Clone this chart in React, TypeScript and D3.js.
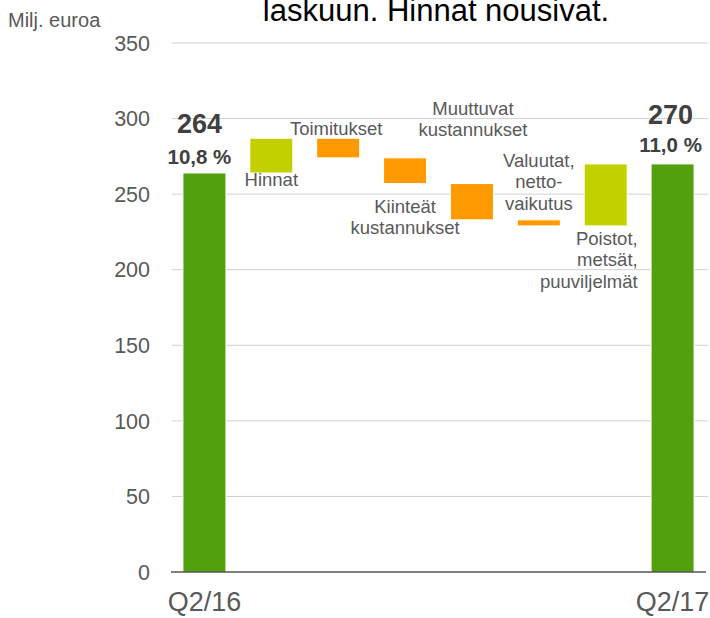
import React from "react";
import * as d3 from "d3";

const categories = [
  "Q2/16",
  "Hinnat",
  "Toimitukset",
  "Kiinteät kustannukset",
  "Muuttuvat kustannukset",
  "Valuutat, nettovaikutus",
  "Poistot, metsät, puuviljelmät",
  "Q2/17",
];
const values = [264, 23, -13, -17, -24, -4, 41, 270];
const kinds = ["total", "price", "neg", "neg", "neg", "neg", "price", "total"];
const labelLines = [
  [],
  ["Hinnat"],
  ["Toimitukset"],
  ["Kiinteät", "kustannukset"],
  ["Muuttuvat", "kustannukset"],
  ["Valuutat,", "netto-", "vaikutus"],
  ["Poistot,", "metsät,", "puuviljelmät"],
  [],
];
const totalLabels = ["264", "", "", "", "", "", "", "270"];
const marginLabels = ["10,8 %", "", "", "", "", "", "", "11,0 %"];
const yTicks = [0, 50, 100, 150, 200, 250, 300, 350];
const xTickLabels = ["Q2/16", "", "", "", "", "", "", "Q2/17"];
const yAxisTitle = "Milj. euroa";
const titleText = "laskuun. Hinnat nousivat.";

// label layout (style): which bar edge, pixel offset of first baseline, x offset, anchor
const labelLayout = [
  null,
  { edge: "bottom", dy: 13, dx: 0, anchor: "middle" },
  { edge: "top", dy: -3, dx: -2, anchor: "middle" },
  { edge: "bottom", dy: 29, dx: 0, anchor: "middle" },
  { edge: "top", dy: -69, dx: 1, anchor: "middle" },
  { edge: "top", dy: -53, dx: 0, anchor: "middle" },
  { edge: "bottom", dy: 19, dx: 32, anchor: "end" },
  null,
];

const W = 710;
const H = 618;
const FONT = "'Liberation Sans', Arial, Helvetica, sans-serif";
const colors: Record<string, string> = {
  total: "#52A00E",
  price: "#C3D000",
  neg: "#FF9900",
};

export default function App() {
  const x = d3
    .scaleBand<string>()
    .domain(categories)
    .range([171, 706])
    .paddingInner(0.357)
    .paddingOuter(0.1785);
  const y = d3.scaleLinear().domain([0, 350]).range([572, 43]);

  let running = 0;
  const bars = categories.map((c, i) => {
    let lo: number, hi: number;
    if (kinds[i] === "total") {
      lo = 0;
      hi = values[i];
      running = values[i];
    } else {
      const start = running;
      const end = running + values[i];
      lo = Math.min(start, end);
      hi = Math.max(start, end);
      running = end;
    }
    return { c, i, lo, hi };
  });

  const lineH = 21.5;

  return (
    <svg width={W} height={H} style={{ position: "absolute", left: 0, top: 0, background: "#fff" }}>
      <rect x={0} y={0} width={W} height={H} fill="#fff" />
      <text x={436} y={21} textAnchor="middle" fontFamily={FONT} fontSize={31} fill="#000">
        {titleText}
      </text>
      <text x={8} y={27} fontFamily={FONT} fontSize={20} fill="#595959">
        {yAxisTitle}
      </text>
      {yTicks.filter((t) => t > 0).map((t) => (
        <line key={t} x1={172} x2={708} y1={y(t)} y2={y(t)} stroke="#D0D0D0" strokeWidth={1} />
      ))}
      {yTicks.map((t) => (
        <text
          key={"yl" + t}
          x={150}
          y={y(t)}
          dy="0.36em"
          textAnchor="end"
          fontFamily={FONT}
          fontSize={21.5}
          fill="#595959"
        >
          {t}
        </text>
      ))}
      {bars.map((b) => (
        <rect
          key={b.c}
          x={x(b.c)!}
          y={y(b.hi)}
          width={x.bandwidth()}
          height={Math.max(0, y(b.lo) - y(b.hi))}
          fill={colors[kinds[b.i]]}
          stroke="#fff"
          strokeWidth={1}
        />
      ))}
      <line x1={171} x2={706} y1={y(0)} y2={y(0)} stroke="#000" strokeWidth={1} />
      {categories.map((c, i) =>
        xTickLabels[i] ? (
          <text
            key={"xl" + c}
            x={x(c)! + x.bandwidth() / 2}
            y={611}
            textAnchor="middle"
            fontFamily={FONT}
            fontSize={27}
            fill="#595959"
          >
            {xTickLabels[i]}
          </text>
        ) : null
      )}
      {bars.map((b) =>
        totalLabels[b.i] ? (
          <g key={"tl" + b.c}>
            <text
              x={x(b.c)! + x.bandwidth() / 2 - (b.i === 0 ? 5 : 2)}
              y={y(b.hi) - 40}
              textAnchor="middle"
              fontFamily={FONT}
              fontSize={27}
              fontWeight="bold"
              fill="#404040"
            >
              {totalLabels[b.i]}
            </text>
            <text
              x={x(b.c)! + x.bandwidth() / 2 - (b.i === 0 ? 5 : 2)}
              y={y(b.hi) - (b.i === 0 ? 9 : 12)}
              textAnchor="middle"
              fontFamily={FONT}
              fontSize={20.5}
              fontWeight="bold"
              fill="#404040"
            >
              {marginLabels[b.i]}
            </text>
          </g>
        ) : null
      )}
      {bars.map((b) => {
        const lay = labelLayout[b.i];
        if (!lay) return null;
        const baseY = (lay.edge === "top" ? y(b.hi) : y(b.lo)) + lay.dy;
        const cx = x(b.c)! + x.bandwidth() / 2 + lay.dx;
        return (
          <text
            key={"sl" + b.c}
            fontFamily={FONT}
            fontSize={18.5}
            fill="#595959"
            textAnchor={lay.anchor as any}
          >
            {labelLines[b.i].map((ln, k) => (
              <tspan key={k} x={cx} y={baseY + k * lineH}>
                {ln}
              </tspan>
            ))}
          </text>
        );
      })}
    </svg>
  );
}
